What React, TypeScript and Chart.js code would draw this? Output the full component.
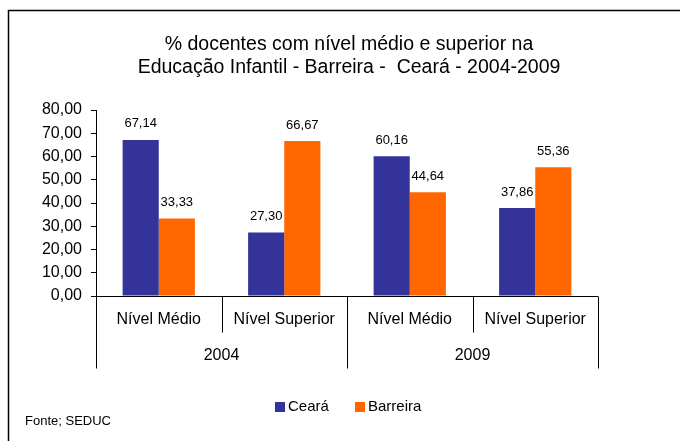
import React, { useEffect, useRef } from 'react';
import { Chart, registerables } from 'chart.js';

Chart.register(...registerables);

const titleLines = ['% docentes com nível médio e superior na', 'Educação Infantil - Barreira -  Ceará - 2004-2009'];
const categories = ['Nível Médio', 'Nível Superior', 'Nível Médio', 'Nível Superior'];
const groups = ['2004', '2009'];
const seriesNames = ['Ceará', 'Barreira'];
const cearaValues = [67.14, 27.3, 60.16, 37.86];
const barreiraValues = [33.33, 66.67, 44.64, 55.36];
const yMin = 0;
const yMax = 80;
const yStep = 10;
const sourceNote = 'Fonte; SEDUC';

const BLUE = '#333399';
const ORANGE = '#FF6600';
const FONT = '"Liberation Sans", Arial, sans-serif';

const fmt = (v: number) => v.toFixed(2).replace('.', ',');

const overlayPlugin = {
  id: 'overlay',
  afterDraw(chart: any) {
    const ctx = chart.ctx as CanvasRenderingContext2D;
    const { left, right, bottom } = chart.chartArea;
    const xs = chart.scales.x;
    ctx.save();

    // outer frame (top + left)
    ctx.strokeStyle = '#000';
    ctx.lineWidth = 1.5;
    ctx.beginPath();
    ctx.moveTo(8.5, 441);
    ctx.lineTo(8.5, 10.5);
    ctx.lineTo(680, 10.5);
    ctx.stroke();

    // title
    ctx.fillStyle = '#000';
    ctx.font = `19.5px ${FONT}`;
    ctx.textAlign = 'center';
    ctx.textBaseline = 'middle';
    const cx = (left + right) / 2 + 2;
    ctx.fillText(titleLines[0], cx, 45);
    ctx.fillText(titleLines[1], cx, 68);

    // data labels
    ctx.font = `13px ${FONT}`;
    chart.data.datasets.forEach((ds: any, di: number) => {
      const meta = chart.getDatasetMeta(di);
      meta.data.forEach((el: any, i: number) => {
        ctx.fillText(fmt(ds.data[i]), el.x, el.y - 16);
      });
    });

    // multi-level category axis
    const n = categories.length;
    const w = (right - left) / n;
    ctx.strokeStyle = '#000';
    ctx.lineWidth = 1;
    ctx.beginPath();
    const by = Math.round(bottom) + 0.5;
    ctx.moveTo(left, by);
    ctx.lineTo(right, by);
    for (let i = 0; i <= n; i++) {
      const bx = Math.round(left + i * w) + 0.5;
      const len = i % 2 === 0 ? 72 : 36;
      ctx.moveTo(bx, by);
      ctx.lineTo(bx, by + len);
    }
    ctx.stroke();

    ctx.fillStyle = '#000';
    ctx.font = `16px ${FONT}`;
    categories.forEach((c, i) => {
      ctx.fillText(c, xs.getPixelForValue(i), bottom + 24);
    });
    groups.forEach((g, gi) => {
      const gx = (xs.getPixelForValue(gi * 2) + xs.getPixelForValue(gi * 2 + 1)) / 2;
      ctx.fillText(g, gx, bottom + 60);
    });

    // legend
    ctx.font = `15px ${FONT}`;
    ctx.textAlign = 'left';
    const legendItems = [
      { name: seriesNames[0], color: BLUE, sx: 275, tx: 288 },
      { name: seriesNames[1], color: ORANGE, sx: 355, tx: 368 },
    ];
    legendItems.forEach((it) => {
      ctx.fillStyle = it.color;
      ctx.fillRect(it.sx, 402, 10, 10);
      ctx.fillStyle = '#000';
      ctx.fillText(it.name, it.tx, 407);
    });

    // source note
    ctx.font = `13px ${FONT}`;
    ctx.fillText(sourceNote, 25, 421);

    ctx.restore();
  },
};

export default function App() {
  const ref = useRef<HTMLCanvasElement | null>(null);

  useEffect(() => {
    if (!ref.current) return;
    const chart = new Chart(ref.current, {
      type: 'bar',
      data: {
        labels: categories,
        datasets: [
          {
            label: seriesNames[0],
            data: cearaValues,
            backgroundColor: BLUE,
            categoryPercentage: 0.576,
            barPercentage: 1,
          },
          {
            label: seriesNames[1],
            data: barreiraValues,
            backgroundColor: ORANGE,
            categoryPercentage: 0.576,
            barPercentage: 1,
          },
        ],
      },
      options: {
        responsive: false,
        animation: false,
        layout: { padding: { left: 0, top: 110, right: 82, bottom: 145 } },
        plugins: {
          legend: { display: false },
          title: { display: false },
          tooltip: { enabled: false },
        },
        scales: {
          x: { display: false },
          y: {
            min: yMin,
            max: yMax,
            afterFit: (s: any) => {
              s.width = 96;
            },
            ticks: {
              stepSize: yStep,
              padding: 9,
              color: '#000',
              font: { family: FONT, size: 16 },
              callback: (v: any) => fmt(Number(v)),
            },
            grid: {
              drawOnChartArea: false,
              drawTicks: true,
              tickLength: 5,
              color: '#000',
            },
            border: { display: true, color: '#000', width: 1 },
          },
        },
      },
      plugins: [overlayPlugin],
    });
    return () => chart.destroy();
  }, []);

  return (
    <div style={{ position: 'fixed', left: 0, top: 0, width: 680, height: 441, background: '#fff' }}>
      <canvas ref={ref} width={680} height={441} style={{ display: 'block' }} />
    </div>
  );
}
